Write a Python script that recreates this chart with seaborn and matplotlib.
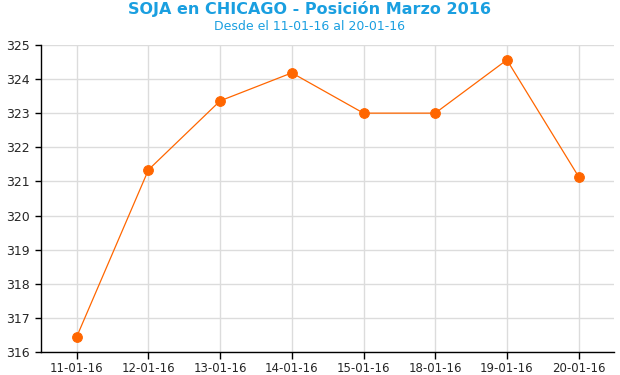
import matplotlib
matplotlib.use("Agg")
import matplotlib.pyplot as plt
import seaborn as sns
import pandas as pd

# data
fechas = ["11-01-16", "12-01-16", "13-01-16", "14-01-16",
          "15-01-16", "18-01-16", "19-01-16", "20-01-16"]
precios = [316.45, 321.34, 323.36, 324.18, 323.0, 323.0, 324.56, 321.14]
y_ticks = list(range(316, 326))

TITLE_BLUE = "#1a9fe0"
ORANGE = "#ff6600"

df = pd.DataFrame({"fecha": fechas, "precio": precios})

sns.set_style("white")
plt.rcParams['font.family'] = ['DejaVu Sans']

fig = plt.figure(figsize=(6.2, 3.75), dpi=100)
ax = fig.add_axes([0.066, 0.0613, 0.925, 0.819])

sns.lineplot(data=df, x="fecha", y="precio", ax=ax, sort=False,
             color=ORANGE, linewidth=0.9, marker="o", markersize=7,
             markeredgecolor=ORANGE, alpha=1)

ax.set_xlim(-0.5, len(fechas) - 0.5)
ax.set_ylim(316, 325)
ax.set_yticks(y_ticks)
ax.set_xticks(range(len(fechas)))
ax.set_xticklabels(fechas)
ax.set_xlabel("")
ax.set_ylabel("")

ax.grid(True, color="#dcdcdc", linewidth=1)
ax.set_axisbelow(True)
for s in ["top", "right"]:
    ax.spines[s].set_visible(False)
for s in ["left", "bottom"]:
    ax.spines[s].set_color("black")
    ax.spines[s].set_linewidth(1)

ax.tick_params(axis="y", direction="out", length=4, width=1, color="black",
               labelsize=9, pad=4, left=True)
ax.tick_params(axis="x", direction="out", length=5, width=1, color="black",
               labelsize=8.5, pad=2, bottom=True)

fig.text(0.5, 0.977, "SOJA en CHICAGO - Posición Marzo 2016",
         ha="center", va="center", color=TITLE_BLUE, fontsize=11.5,
         fontweight="bold")
fig.text(0.5, 0.928, "Desde el 11-01-16 al 20-01-16",
         ha="center", va="center", color=TITLE_BLUE, fontsize=9)

fig.savefig("out.png", dpi=100)
